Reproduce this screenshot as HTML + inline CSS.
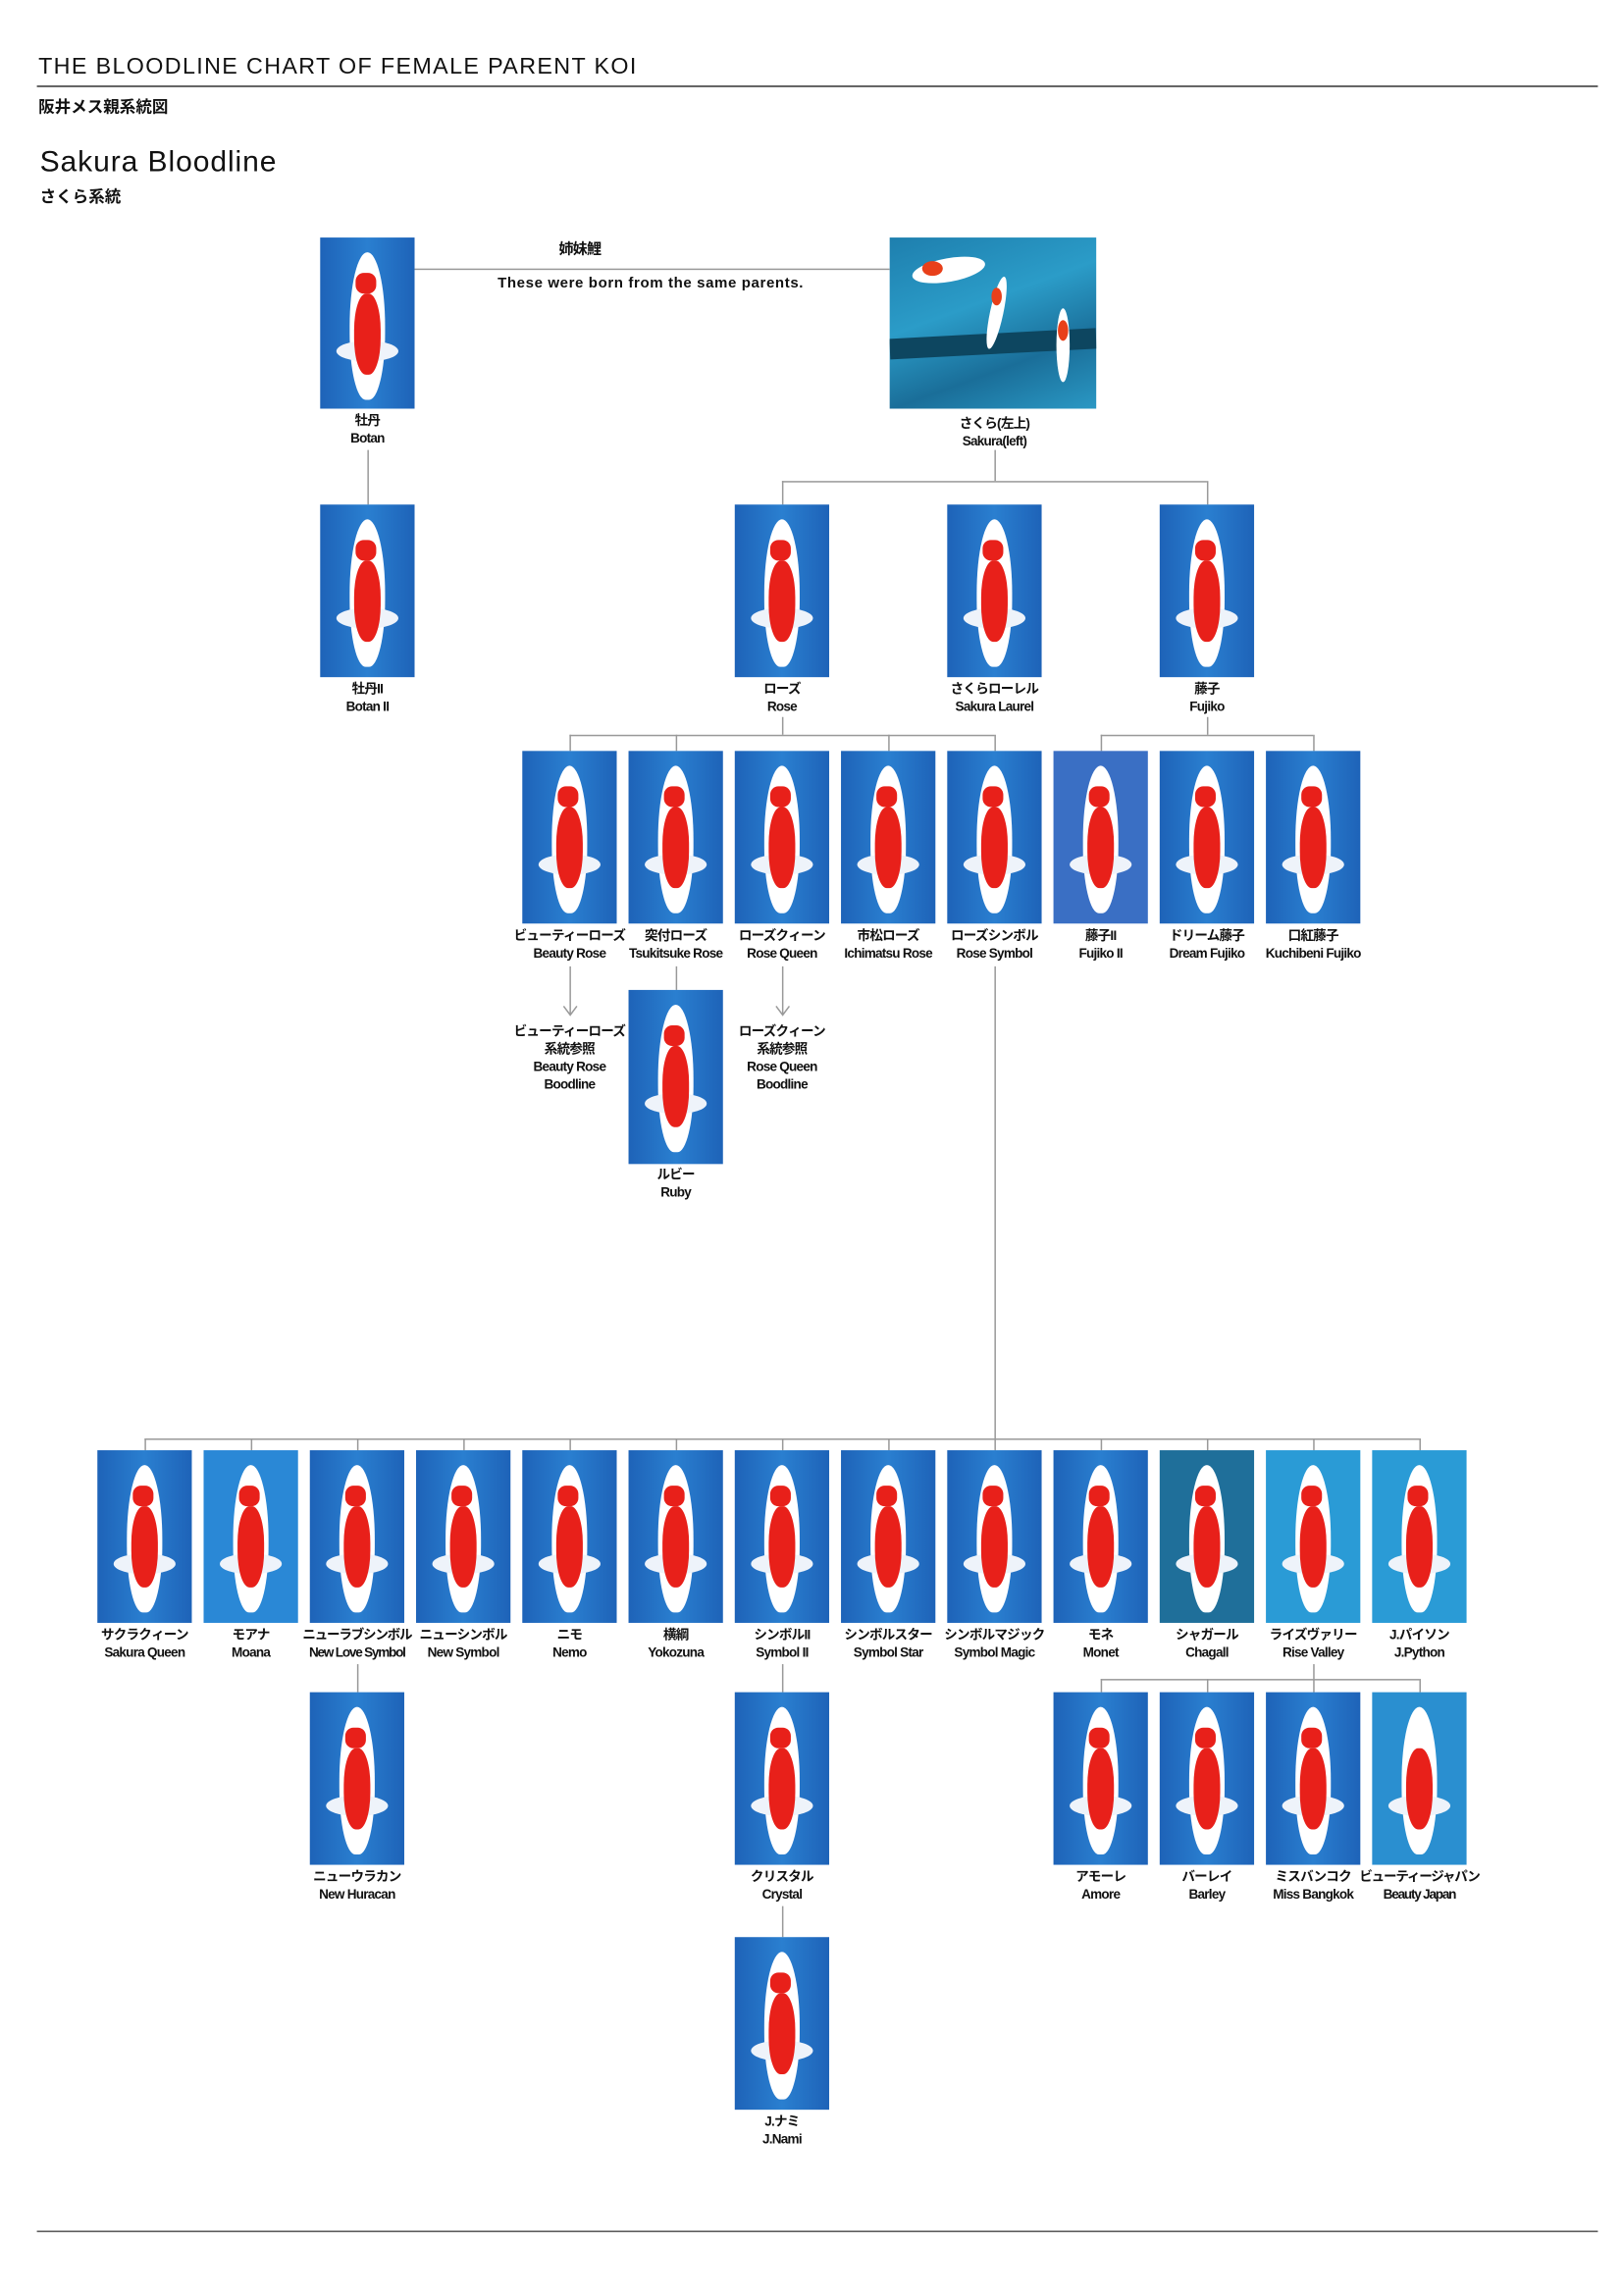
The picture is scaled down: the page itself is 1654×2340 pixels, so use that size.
<!DOCTYPE html>
<html><head><meta charset="utf-8">
<style>
html,body{margin:0;padding:0;background:#fff;}
body{width:1654px;height:2339px;overflow:hidden;position:relative;}
#w{position:absolute;left:0;top:0;width:1100px;height:1556px;transform:scale(1.5036);transform-origin:0 0;font-family:"Liberation Sans Narrow","Liberation Sans","Noto Sans CJK JP",sans-serif;color:#111;}
.k{position:absolute;width:64px;height:117px;background:linear-gradient(90deg,#1e63b8,#2a7fd0 50%,#1e63b8);overflow:hidden;}
.k::before{content:"";position:absolute;left:20px;top:10px;width:24px;height:100px;background:#fff;border-radius:50% 50% 45% 45%;}
.k::after{content:"";position:absolute;left:23px;top:38px;width:18px;height:55px;background:#e8201a;border-radius:45%;}
.k i{position:absolute;left:11px;top:70px;width:42px;height:14px;background:#eef3fa;border-radius:50%;}
.k b{position:absolute;left:24px;top:24px;width:14px;height:14px;background:#e8201a;border-radius:40%;z-index:2;}
.l{position:absolute;width:90px;text-align:center;font-size:9px;font-weight:bold;line-height:12px;white-space:nowrap;letter-spacing:-0.5px;}
.h{position:absolute;height:1px;background:#999;}
.v{position:absolute;width:1px;background:#999;}
</style></head><body><div id="w">
<div style="position:absolute;left:26px;top:37px;font-size:15.5px;letter-spacing:0.9px;">THE BLOODLINE CHART OF FEMALE PARENT KOI</div>
<div style="position:absolute;left:25px;top:58px;width:1058px;height:1px;background:#333;"></div>
<div style="position:absolute;left:26px;top:64px;font-size:11px;font-weight:bold;">阪井メス親系統図</div>
<div style="position:absolute;left:27px;top:99px;font-size:20px;letter-spacing:0.6px;">Sakura Bloodline</div>
<div style="position:absolute;left:27px;top:125px;font-size:11px;font-weight:bold;">さくら系統</div>
<div style="position:absolute;left:25px;top:1512px;width:1058px;height:1px;background:#555;"></div>

<!-- top -->
<div class="k" style="left:217px;top:161px;height:116px"><i></i><b></b></div>
<div style="position:absolute;left:603px;top:161px;width:140px;height:116px;background:linear-gradient(160deg,#1e7fae,#2b9cc8 40%,#1a6e99 70%,#2a98c4);overflow:hidden">
<div style="position:absolute;left:0;top:65px;width:140px;height:14px;background:#0d4660;transform:rotate(-3deg)"></div>
<div style="position:absolute;left:15px;top:14px;width:50px;height:16px;background:#fff;border-radius:50%;transform:rotate(-10deg)"></div>
<div style="position:absolute;left:22px;top:16px;width:14px;height:10px;background:#e8401a;border-radius:50%"></div>
<div style="position:absolute;left:68px;top:26px;width:9px;height:50px;background:#fff;border-radius:50%;transform:rotate(12deg)"></div>
<div style="position:absolute;left:69px;top:34px;width:7px;height:12px;background:#e8401a;border-radius:50%"></div>
<div style="position:absolute;left:113px;top:48px;width:9px;height:50px;background:#fff;border-radius:50%"></div>
<div style="position:absolute;left:114px;top:56px;width:7px;height:14px;background:#e8401a;border-radius:50%"></div>
</div>
<div class="h" style="left:281px;top:182px;width:322px"></div>
<div class="l" style="left:348px;top:164px;font-size:10px">姉妹鯉</div>
<div class="l" style="left:291px;top:187px;width:300px;font-size:10px;letter-spacing:0.4px">These were born from the same parents.</div>
<div class="l" style="left:204px;top:279px">牡丹<br>Botan</div>
<div class="l" style="left:629px;top:281px">さくら(左上)<br>Sakura(left)</div>
<div class="v" style="left:249px;top:305px;height:37px"></div>
<div class="v" style="left:674px;top:305px;height:21px"></div>
<div class="h" style="left:530px;top:326px;width:288px"></div>
<div class="v" style="left:530px;top:326px;height:16px"></div>
<div class="v" style="left:818px;top:326px;height:16px"></div>

<!-- row1 -->
<div class="k" style="left:217px;top:342px"><i></i><b></b></div>
<div class="k" style="left:498px;top:342px"><i></i><b></b></div>
<div class="k" style="left:642px;top:342px"><i></i><b></b></div>
<div class="k" style="left:786px;top:342px"><i></i><b></b></div>
<div class="l" style="left:204px;top:461px">牡丹II<br>Botan II</div>
<div class="l" style="left:485px;top:461px">ローズ<br>Rose</div>
<div class="l" style="left:629px;top:461px">さくらローレル<br>Sakura Laurel</div>
<div class="l" style="left:773px;top:461px">藤子<br>Fujiko</div>
<div class="v" style="left:530px;top:486px;height:12px"></div>
<div class="h" style="left:386px;top:498px;width:288px"></div>
<div class="v" style="left:386px;top:498px;height:11px"></div>
<div class="v" style="left:458px;top:498px;height:11px"></div>
<div class="v" style="left:602px;top:498px;height:11px"></div>
<div class="v" style="left:674px;top:498px;height:11px"></div>
<div class="v" style="left:818px;top:486px;height:12px"></div>
<div class="h" style="left:746px;top:498px;width:144px"></div>
<div class="v" style="left:746px;top:498px;height:11px"></div>
<div class="v" style="left:890px;top:498px;height:11px"></div>

<!-- row2 -->
<div class="k" style="left:354px;top:509px"><i></i><b></b></div>
<div class="k" style="left:426px;top:509px"><i></i><b></b></div>
<div class="k" style="left:498px;top:509px"><i></i><b></b></div>
<div class="k" style="left:570px;top:509px"><i></i><b></b></div>
<div class="k" style="left:642px;top:509px"><i></i><b></b></div>
<div class="k" style="left:714px;top:509px;background:#3a6fc4"><i></i><b></b></div>
<div class="k" style="left:786px;top:509px"><i></i><b></b></div>
<div class="k" style="left:858px;top:509px"><i></i><b></b></div>
<div class="l" style="left:341px;top:628px">ビューティーローズ<br>Beauty Rose</div>
<div class="l" style="left:413px;top:628px">突付ローズ<br>Tsukitsuke Rose</div>
<div class="l" style="left:485px;top:628px">ローズクィーン<br>Rose Queen</div>
<div class="l" style="left:557px;top:628px">市松ローズ<br>Ichimatsu Rose</div>
<div class="l" style="left:629px;top:628px">ローズシンボル<br>Rose Symbol</div>
<div class="l" style="left:701px;top:628px">藤子II<br>Fujiko II</div>
<div class="l" style="left:773px;top:628px">ドリーム藤子<br>Dream Fujiko</div>
<div class="l" style="left:845px;top:628px">口紅藤子<br>Kuchibeni Fujiko</div>
<svg style="position:absolute;left:0;top:0" width="1100" height="1556"><g stroke="#999" fill="none" stroke-width="1"><path d="M386.5 655V688M382 682L386.5 688L391 682"/><path d="M530.5 655V688M526 682L530.5 688L535 682"/></g></svg>
<div class="l" style="left:341px;top:693px">ビューティーローズ<br>系統参照<br>Beauty Rose<br>Boodline</div>
<div class="l" style="left:485px;top:693px">ローズクィーン<br>系統参照<br>Rose Queen<br>Boodline</div>
<div class="v" style="left:458px;top:655px;height:16px"></div>
<div class="k" style="left:426px;top:671px;height:118px"><i></i><b></b></div>
<div class="l" style="left:413px;top:790px">ルビー<br>Ruby</div>
<div class="v" style="left:674px;top:655px;height:320px"></div>
<div class="h" style="left:98px;top:975px;width:864px"></div>
<div class="v" style="left:98px;top:975px;height:8px"></div><div class="v" style="left:170px;top:975px;height:8px"></div><div class="v" style="left:242px;top:975px;height:8px"></div><div class="v" style="left:314px;top:975px;height:8px"></div><div class="v" style="left:386px;top:975px;height:8px"></div><div class="v" style="left:458px;top:975px;height:8px"></div><div class="v" style="left:530px;top:975px;height:8px"></div><div class="v" style="left:602px;top:975px;height:8px"></div><div class="v" style="left:674px;top:975px;height:8px"></div><div class="v" style="left:746px;top:975px;height:8px"></div><div class="v" style="left:818px;top:975px;height:8px"></div><div class="v" style="left:890px;top:975px;height:8px"></div><div class="v" style="left:962px;top:975px;height:8px"></div>

<!-- bottom row -->
<div class="k" style="left:66px;top:983px"><i></i><b></b></div>
<div class="k" style="left:138px;top:983px;background:#2a88d6"><i></i><b></b></div>
<div class="k" style="left:210px;top:983px"><i></i><b></b></div>
<div class="k" style="left:282px;top:983px"><i></i><b></b></div>
<div class="k" style="left:354px;top:983px"><i></i><b></b></div>
<div class="k" style="left:426px;top:983px"><i></i><b></b></div>
<div class="k" style="left:498px;top:983px"><i></i><b></b></div>
<div class="k" style="left:570px;top:983px"><i></i><b></b></div>
<div class="k" style="left:642px;top:983px"><i></i><b></b></div>
<div class="k" style="left:714px;top:983px"><i></i><b></b></div>
<div class="k" style="left:786px;top:983px;background:#1f6f9a"><i></i><b></b></div>
<div class="k" style="left:858px;top:983px;background:#2a9bd6"><i></i><b></b></div>
<div class="k" style="left:930px;top:983px;background:#2a9bd6"><i></i><b></b></div>
<div class="l" style="left:53px;top:1102px">サクラクィーン<br>Sakura Queen</div>
<div class="l" style="left:125px;top:1102px">モアナ<br>Moana</div>
<div class="l" style="left:197px;top:1102px;letter-spacing:-0.8px">ニューラブシンボル<br>New Love Symbol</div>
<div class="l" style="left:269px;top:1102px">ニューシンボル<br>New Symbol</div>
<div class="l" style="left:341px;top:1102px">ニモ<br>Nemo</div>
<div class="l" style="left:413px;top:1102px">横綱<br>Yokozuna</div>
<div class="l" style="left:485px;top:1102px">シンボルII<br>Symbol II</div>
<div class="l" style="left:557px;top:1102px">シンボルスター<br>Symbol Star</div>
<div class="l" style="left:629px;top:1102px">シンボルマジック<br>Symbol Magic</div>
<div class="l" style="left:701px;top:1102px">モネ<br>Monet</div>
<div class="l" style="left:773px;top:1102px">シャガール<br>Chagall</div>
<div class="l" style="left:845px;top:1102px">ライズヴァリー<br>Rise Valley</div>
<div class="l" style="left:917px;top:1102px">J.パイソン<br>J.Python</div>

<div class="v" style="left:242px;top:1128px;height:19px"></div>
<div class="v" style="left:530px;top:1128px;height:19px"></div>
<div class="v" style="left:890px;top:1128px;height:10px"></div>
<div class="h" style="left:746px;top:1138px;width:216px"></div>
<div class="v" style="left:746px;top:1138px;height:9px"></div><div class="v" style="left:818px;top:1138px;height:9px"></div><div class="v" style="left:890px;top:1138px;height:9px"></div><div class="v" style="left:962px;top:1138px;height:9px"></div>
<div class="k" style="left:210px;top:1147px"><i></i><b></b></div>
<div class="k" style="left:498px;top:1147px"><i></i><b></b></div>
<div class="k" style="left:714px;top:1147px"><i></i><b></b></div>
<div class="k" style="left:786px;top:1147px"><i></i><b></b></div>
<div class="k" style="left:858px;top:1147px"><i></i><b></b></div>
<div class="k" style="left:930px;top:1147px;background:#2a8fd0"><i></i></div>
<div class="l" style="left:197px;top:1266px">ニューウラカン<br>New Huracan</div>
<div class="l" style="left:485px;top:1266px">クリスタル<br>Crystal</div>
<div class="l" style="left:701px;top:1266px">アモーレ<br>Amore</div>
<div class="l" style="left:773px;top:1266px">バーレイ<br>Barley</div>
<div class="l" style="left:845px;top:1266px">ミスバンコク<br>Miss Bangkok</div>
<div class="l" style="left:917px;top:1266px;letter-spacing:-0.8px">ビューティージャパン<br>Beauty Japan</div>
<div class="v" style="left:530px;top:1292px;height:21px"></div>
<div class="k" style="left:498px;top:1313px"><i></i><b></b></div>
<div class="l" style="left:485px;top:1432px">J.ナミ<br>J.Nami</div>
</div></body></html>
